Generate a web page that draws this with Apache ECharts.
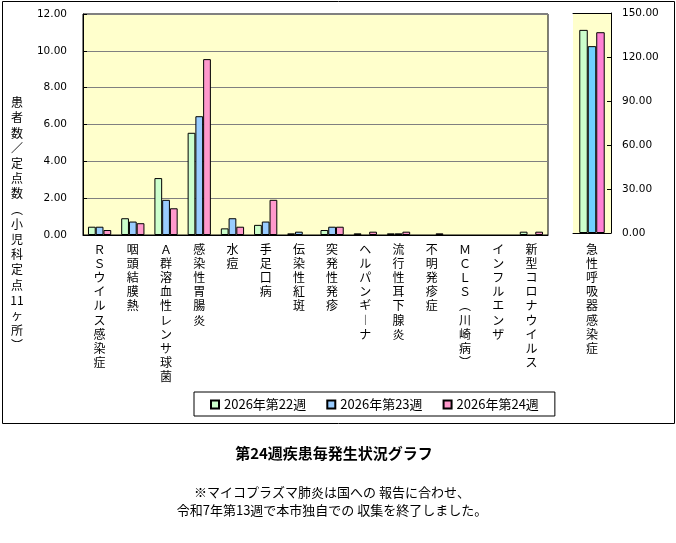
<!DOCTYPE html>
<html>
<head>
<meta charset="utf-8">
<script src="https://cdn.jsdelivr.net/npm/echarts@6/dist/echarts.min.js"></script>
<style>
  html, body { margin: 0; padding: 0; background: #fff; }
  #chart { width: 676px; height: 543px; }
</style>
</head>
<body>
<div id="chart"></div>
<script>
// 疾患名（定点・小児科）
const diseases = ['ＲＳウイルス感染症', '咽頭結膜熱', 'Ａ群溶血性レンサ球菌', '感染性胃腸炎', '水痘', '手足口病',
  '伝染性紅斑', '突発性発疹', 'ヘルパンギーナ', '流行性耳下腺炎', '不明発疹症', 'ＭＣＬＳ（川崎病）',
  'インフルエンザ', '新型コロナウイルス']
const weeks = ['2026年第22週', '2026年第23週', '2026年第24週']
const week22 = [0.45, 0.91, 3.09, 5.55, 0.36, 0.55, 0.09, 0.27, 0.09, 0.09, 0, 0, 0, 0.18]
const week23 = [0.45, 0.73, 1.91, 6.45, 0.91, 0.73, 0.18, 0.45, 0, 0.09, 0, 0, 0, 0]
const week24 = [0.27, 0.64, 1.45, 9.55, 0.45, 1.91, 0, 0.45, 0.18, 0.18, 0.09, 0, 0, 0.18]

// 急性呼吸器感染症（右軸）
const ariName = ['急性呼吸器感染症']
const ari22 = [138.5]
const ari23 = [127.4]
const ari24 = [136.9]

const leftTicks = [0, 2, 4, 6, 8, 10, 12]
const rightTicks = [0, 30, 60, 90, 120, 150]

const yNameChars = ['患', '者', '数', '／', '定', '点', '数', '︵', '小', '児', '科', '定', '点', '11', 'ヶ', '所', '︶']

const numFont = 'Tahoma, "DejaVu Sans", sans-serif'
const jpFont = '"Noto Sans CJK JP", sans-serif'

// 縦書きラベル
const vertical = v => Array.from(v.replace(/ー/g, '︱').replace(/（/g, '︵').replace(/）/g, '︶')).join('\n')

// 0件は棒を描かない
const noZero = arr => arr.map(v => (v === 0 ? null : v))

const leftColors = ['#CCFFCC', '#99CCFF', '#FF99CC']
const rightColors = ['#CCFFCC', '#6FD0FF', '#FF80D4']

const chart = echarts.init(document.getElementById('chart'))

const barStyle = c => ({ color: c, borderColor: '#000', borderWidth: 1 })

const option = {
  animation: false,
  textStyle: { fontFamily: jpFont },
  grid: [
    { left: 83, top: 14, width: 465, height: 221, show: true, backgroundColor: '#FFFFCC', borderColor: '#000', borderWidth: 1 },
    { left: 573, top: 13, width: 38, height: 220, show: true, backgroundColor: '#FFFFCC', borderWidth: 0 }
  ],
  legend: {
    data: weeks,
    left: 194,
    top: 392,
    padding: [6, 16, 5, 16],
    borderColor: '#000',
    borderWidth: 1,
    itemWidth: 8,
    itemHeight: 8,
    itemGap: 20,
    icon: 'rect',
    textStyle: { fontSize: 13, color: '#000', fontFamily: jpFont }
  },
  xAxis: [
    {
      type: 'category', gridIndex: 0, data: diseases,
      axisLine: { lineStyle: { color: '#000' } },
      axisTick: { inside: true, length: 3, lineStyle: { color: '#000' } },
      axisLabel: {
        interval: 0, margin: 7, formatter: vertical, verticalAlign: 'top',
        fontSize: 12, lineHeight: 14.2, color: '#000', fontFamily: jpFont
      }
    },
    {
      type: 'category', gridIndex: 1, data: ariName,
      axisLine: { lineStyle: { color: '#000' } },
      axisTick: { show: false },
      axisLabel: {
        interval: 0, margin: 9, formatter: vertical, verticalAlign: 'top',
        fontSize: 12, lineHeight: 14.2, color: '#000', fontFamily: jpFont
      }
    },
    {
      type: 'category', gridIndex: 1, data: ariName, position: 'top',
      axisLine: { lineStyle: { color: '#000' } },
      axisTick: { show: false }, axisLabel: { show: false }
    }
  ],
  yAxis: [
    {
      type: 'value', gridIndex: 0, min: 0, max: 12, interval: 2,
      axisLine: { show: true, lineStyle: { color: '#000' } },
      axisTick: { show: true, inside: true, length: 4, lineStyle: { color: '#000' } },
      splitLine: { lineStyle: { color: '#808080' } },
      axisLabel: {
        margin: 16, fontSize: 10.5, color: '#000', fontFamily: numFont,
        formatter: v => leftTicks.includes(v) ? v.toFixed(2) : ''
      }
    },
    {
      type: 'value', gridIndex: 1, min: 0, max: 150, interval: 30, position: 'right',
      axisLine: { show: true, lineStyle: { color: '#000' } },
      axisTick: { show: true, inside: true, length: 4, lineStyle: { color: '#000' } },
      splitLine: { show: false },
      axisLabel: {
        margin: 11, fontSize: 10.5, color: '#000', fontFamily: numFont,
        formatter: v => rightTicks.includes(v) ? v.toFixed(2) : ''
      }
    }
  ],
  series: [
    { name: weeks[0], type: 'bar', xAxisIndex: 0, yAxisIndex: 0, data: noZero(week22), barGap: 0, barCategoryGap: '30%', itemStyle: barStyle(leftColors[0]) },
    { name: weeks[1], type: 'bar', xAxisIndex: 0, yAxisIndex: 0, data: noZero(week23), barGap: 0, barCategoryGap: '30%', itemStyle: barStyle(leftColors[1]) },
    { name: weeks[2], type: 'bar', xAxisIndex: 0, yAxisIndex: 0, data: noZero(week24), barGap: 0, barCategoryGap: '30%', itemStyle: barStyle(leftColors[2]) },
    { name: weeks[0], type: 'bar', xAxisIndex: 1, yAxisIndex: 1, data: ari22, barGap: 0, barCategoryGap: '33%', itemStyle: barStyle(rightColors[0]) },
    { name: weeks[1], type: 'bar', xAxisIndex: 1, yAxisIndex: 1, data: ari23, barGap: 0, barCategoryGap: '33%', itemStyle: barStyle(rightColors[1]) },
    { name: weeks[2], type: 'bar', xAxisIndex: 1, yAxisIndex: 1, data: ari24, barGap: 0, barCategoryGap: '33%', itemStyle: barStyle(rightColors[2]) }
  ],
  graphic: [
    // 外枠
    { type: 'rect', z: -1, shape: { x: 2.5, y: 1.5, width: 672, height: 422 }, style: { fill: null, stroke: '#000', lineWidth: 1 } },
    // 縦軸名
    {
      type: 'text', x: 17, y: 95,
      style: { text: yNameChars.join('\n'), fontSize: 12, lineHeight: 15.2, align: 'center', fill: '#000', fontFamily: jpFont }
    },
    // タイトル
    {
      type: 'text', x: 334, y: 453,
      style: { text: '第24週疾患毎発生状況グラフ', fontSize: 15, fontWeight: 'bold', align: 'center', verticalAlign: 'middle', fill: '#000', fontFamily: jpFont }
    },
    {
      type: 'text', x: 332, y: 492,
      style: { text: '※マイコプラズマ肺炎は国への 報告に合わせ、', fontSize: 13, align: 'center', verticalAlign: 'middle', fill: '#000', fontFamily: jpFont }
    },
    {
      type: 'text', x: 332, y: 510,
      style: { text: '令和7年第13週で本市独自での 収集を終了しました。', fontSize: 13, align: 'center', verticalAlign: 'middle', fill: '#000', fontFamily: jpFont }
    }
  ]
}

chart.setOption(option)
</script>
</body>
</html>
